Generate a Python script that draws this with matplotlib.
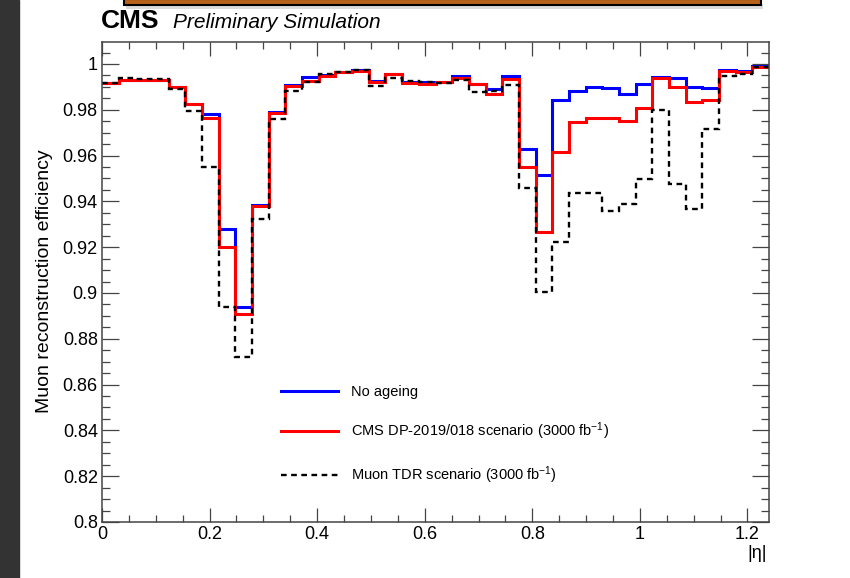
import numpy as np
import matplotlib
matplotlib.use('Agg')
import matplotlib.pyplot as plt
from matplotlib.patches import Rectangle
from matplotlib.lines import Line2D
from matplotlib.ticker import MultipleLocator

plt.rcParams['font.family'] = ['Liberation Sans', 'DejaVu Sans']
plt.rcParams['mathtext.fontset'] = 'custom'
plt.rcParams['mathtext.rm'] = 'Liberation Sans'
plt.rcParams['mathtext.it'] = 'Liberation Sans:italic'

# 40 bins in |eta| from 0 to 1.24
eta_edges = np.linspace(0, 1.24, 41)

no_ageing = [0.9917, 0.9932, 0.9931, 0.9931, 0.9901, 0.9826, 0.9780, 0.9280, 0.8940, 0.9386,
             0.9790, 0.9910, 0.9942, 0.9953, 0.9966, 0.9975, 0.9924, 0.9956, 0.9923, 0.9920,
             0.9921, 0.9949, 0.9911, 0.9891, 0.9949, 0.9630, 0.9515, 0.9842, 0.9880, 0.9900,
             0.9895, 0.9871, 0.9912, 0.9944, 0.9937, 0.9900, 0.9893, 0.9975, 0.9968, 0.9990]
dp_2019 = [0.9917, 0.9931, 0.9930, 0.9930, 0.9900, 0.9825, 0.9766, 0.9203, 0.8910, 0.9380,
           0.9788, 0.9905, 0.9927, 0.9949, 0.9963, 0.9970, 0.9922, 0.9956, 0.9917, 0.9912,
           0.9920, 0.9940, 0.9911, 0.9868, 0.9934, 0.9550, 0.9266, 0.9615, 0.9747, 0.9766,
           0.9763, 0.9749, 0.9807, 0.9937, 0.9898, 0.9835, 0.9842, 0.9971, 0.9966, 0.9988]
muon_tdr = [0.9917, 0.9939, 0.9934, 0.9933, 0.9890, 0.9795, 0.9550, 0.8940, 0.8720, 0.9325,
            0.9759, 0.9883, 0.9923, 0.9956, 0.9966, 0.9972, 0.9905, 0.9937, 0.9924, 0.9920,
            0.9917, 0.9931, 0.9879, 0.9883, 0.9908, 0.9460, 0.9003, 0.9222, 0.9437, 0.9437,
            0.9360, 0.9389, 0.9496, 0.9800, 0.9474, 0.9367, 0.9715, 0.9946, 0.9956, 0.9985]

labels = ['No ageing',
          r'CMS DP-2019/018 scenario (3000 fb$^{\mathrm{-1}}$)',
          r'Muon TDR scenario (3000 fb$^{\mathrm{-1}}$)']

W, H = 850, 578
fig = plt.figure(figsize=(8.5, 5.78), dpi=100)
ax = fig.add_axes([102 / W, 1 - 522 / H, (769 - 102) / W, (522 - 42) / H])

dash = (0, (2.4, 1.9))
ax.stairs(no_ageing, eta_edges, baseline=None, color='#0000ff', lw=2.2)
ax.stairs(dp_2019, eta_edges, baseline=None, color='#ff0000', lw=2.2)
ax.stairs(muon_tdr, eta_edges, baseline=None, color='black', lw=1.7, linestyle=dash)

ax.set_xlim(0, 1.24)
ax.set_ylim(0.8, 1.0096)
ax.xaxis.set_major_locator(MultipleLocator(0.2))
ax.xaxis.set_minor_locator(MultipleLocator(0.05))
ax.yaxis.set_major_locator(MultipleLocator(0.02))
ax.yaxis.set_minor_locator(MultipleLocator(0.005))
ax.set_xticks(np.arange(0, 1.21, 0.2))
ax.set_xticklabels(['0', '0.2', '0.4', '0.6', '0.8', '1', '1.2'])
yt = np.round(np.arange(0.8, 1.001, 0.02), 2)
ax.set_yticks(yt)
ax.set_yticklabels(['0.8' if v == 0.8 else ('1' if v == 1 else f'{v:g}') for v in yt])

ax.tick_params(which='both', direction='in', top=True, right=True, colors='#444444',
               labelcolor='black', labelsize=13, width=0.9)
ax.tick_params(axis='x', which='major', length=10, pad=3)
ax.tick_params(axis='x', which='minor', length=5)
ax.tick_params(axis='y', which='major', length=12, pad=3)
ax.tick_params(axis='y', which='minor', length=6)
for s in ax.spines.values():
    s.set_color('#444444')
    s.set_linewidth(1.1)

handles = [Line2D([], [], color='#0000ff', lw=2.2),
           Line2D([], [], color='#ff0000', lw=2.2),
           Line2D([], [], color='black', lw=1.7, linestyle=dash)]
ax.legend(handles, labels, loc='upper left', bbox_to_anchor=(281 / W, 1 - 385 / H),
          bbox_transform=fig.transFigure, frameon=False, fontsize=10.5,
          handlelength=3.9, handletextpad=0.9, labelspacing=1.5,
          borderpad=0, borderaxespad=0)

fig.text(767 / W, 1 - 553 / H, '|η|', ha='right', va='center', fontsize=13)
fig.text(45 / W, 1 - 281 / H, 'Muon reconstruction efficiency', rotation=90,
         ha='center', va='center', fontsize=14)
fig.text(101 / W, 1 - 21 / H, 'CMS', fontweight='bold', fontsize=19, ha='left', va='center')
fig.text(173 / W, 1 - 22 / H, 'Preliminary Simulation', fontstyle='italic', fontsize=15,
         ha='left', va='center')

# screenshot leftovers: dark strip on the left and an orange bar at the top
fig.patches.append(Rectangle((0, 0), 19 / W, 1, transform=fig.transFigure,
                             color='#333333', zorder=0))
fig.patches.append(Rectangle((126 / W, 1 - 9 / H), 637 / W, 5 / H, transform=fig.transFigure,
                             color='#999999', alpha=0.35, lw=0))
fig.patches.append(Rectangle((124 / W, 1 - 5 / H), 637 / W, 6 / H, transform=fig.transFigure,
                             facecolor='#b8621c', edgecolor='black', lw=1.5))

fig.savefig('out.png', dpi=100)
